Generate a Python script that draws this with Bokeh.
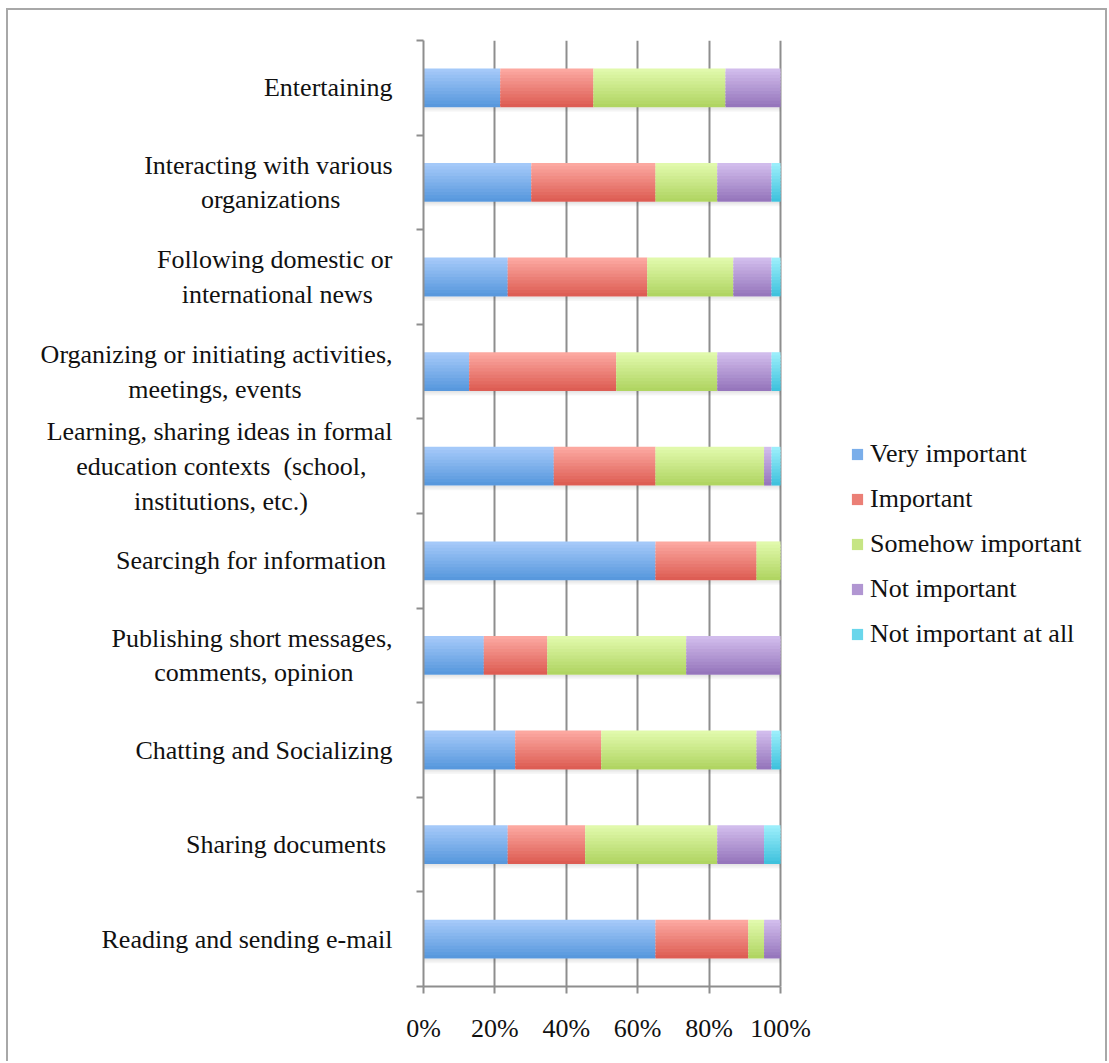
from bokeh.plotting import figure
from bokeh.models import Range1d, FixedTicker, NumeralTickFormatter, Legend, LegendItem
from bokeh.embed import file_html
from bokeh.resources import INLINE

# ---- data (bottom to top) ----
categories = [
    "Reading and sending e-mail",
    "Sharing documents ",
    "Chatting and Socializing",
    "Publishing short messages,\ncomments, opinion",
    "Searcingh for information ",
    "Learning, sharing ideas in formal\neducation contexts  (school,\ninstitutions, etc.)",
    "Organizing or initiating activities,\nmeetings, events",
    "Following domestic or\ninternational news",
    "Interacting with various\norganizations",
    "Entertaining",
]
series_names = ["Very important", "Important", "Somehow important", "Not important", "Not important at all"]
very_important = [65.0, 23.6, 25.7, 16.9, 65.0, 36.5, 12.8, 23.6, 30.2, 21.5]
important = [26.0, 21.7, 24.1, 17.8, 28.3, 28.5, 41.2, 39.1, 34.8, 26.1]
somehow_important = [4.4, 37.0, 43.5, 38.9, 6.7, 30.4, 28.3, 24.1, 17.3, 37.0]
not_important = [4.6, 13.1, 4.2, 26.4, 0.0, 2.1, 15.2, 10.7, 15.2, 15.4]
not_important_at_all = [0.0, 4.6, 2.5, 0.0, 0.0, 2.5, 2.5, 2.5, 2.5, 0.0]
x_tick_values = [0, 0.2, 0.4, 0.6, 0.8, 1.0]

series = [very_important, important, somehow_important, not_important, not_important_at_all]

# ---- styling ----
grad = [("#a8cbfa", "#5496dc"), ("#fdaba4", "#dc5a50"), ("#e3fbaf", "#aed35f"),
        ("#d4bfee", "#9373ba"), ("#9ff0fc", "#3cc0dc")]
# trailing non-breaking spaces per line so that multi-line labels look centred
line_pads = [[0], [0], [0], [0, 6], [0], [0, 4, 13], [0, 14], [0, 3], [0, 8], [0]]

FONT = "Liberation Serif"
NBSP = "\u00a0"

FIG_W, FIG_H = 1101, 1053
BORDER_L, BORDER_T, BORDER_B = 415, 30, 77
PLOT_PX = 357           # pixel width of 0..100 %
FRAME_PX = FIG_W - BORDER_L
X_MAX = FRAME_PX / PLOT_PX   # frame extends to the right to host the legend


def mix(c1, c2, t):
    a = [int(c1[i:i + 2], 16) for i in (1, 3, 5)]
    b = [int(c2[i:i + 2], 16) for i in (1, 3, 5)]
    return "#%02x%02x%02x" % tuple(round(a[k] + (b[k] - a[k]) * t) for k in range(3))


def padded(label, pads):
    lines = label.split("\n")
    out = []
    for ln, n in zip(lines, pads):
        if ln.endswith(" "):
            ln = ln[:-1] + NBSP
        out.append(ln.replace("  ", NBSP + NBSP) + NBSP * n)
    return "\n".join(out)


p = figure(width=FIG_W, height=FIG_H, output_backend="svg", toolbar_location=None,
           x_range=Range1d(0, X_MAX), y_range=Range1d(0, len(categories)),
           min_border_left=BORDER_L, min_border_right=0, min_border_top=BORDER_T,
           min_border_bottom=BORDER_B)
p.margin = (8, 0, 0, 6)
p.styles = {"border-top": "2px solid #a8a8a8", "border-left": "2px solid #a8a8a8",
            "border-right": "2px solid #a8a8a8"}
p.outline_line_color = None
p.background_fill_color = "white"
p.border_fill_color = "white"

# grid
p.ygrid.grid_line_color = None
p.xgrid.ticker = FixedTicker(ticks=x_tick_values)
p.xgrid.grid_line_color = "#8e8e8e"
p.xgrid.grid_line_width = 2

ys = [i + 0.5 for i in range(len(categories))]
BAR_H = 0.41
NSTRIP = 12
strip_h = BAR_H / NSTRIP

# soft shadow below bars
for k in range(4):
    p.hbar(y=[y - BAR_H / 2 - 0.012 * (k + 0.5) for y in ys], height=0.012,
           left=0.0, right=1.0, fill_color="#000000", fill_alpha=0.10 - 0.022 * k,
           line_color=None)

legend_items = []
lefts = [0.0] * len(categories)
for s_idx, vals in enumerate(series):
    rights = [l + v / 100.0 for l, v in zip(lefts, vals)]
    mid_renderer = None
    for j in range(NSTRIP):
        t = (j + 0.5) / NSTRIP
        col = mix(grad[s_idx][0], grad[s_idx][1], t)
        tops = [y + BAR_H / 2 - j * strip_h for y in ys]
        bottoms = [max(y - BAR_H / 2, tp - strip_h * 1.6) for y, tp in zip(ys, tops)]
        r = p.quad(left=lefts, right=rights, top=tops, bottom=bottoms,
                   fill_color=col, line_color=None)
        if j == NSTRIP // 2:
            mid_renderer = r
    legend_items.append(LegendItem(label=series_names[s_idx], renderers=[mid_renderer]))
    lefts = rights

# axes
yax = p.yaxis[0]
yax.ticker = FixedTicker(ticks=ys, minor_ticks=list(range(len(categories) + 1)))
yax.major_label_overrides = {y: padded(c, pd) for y, c, pd in zip(ys, categories, line_pads)}
yax.major_tick_out = 0
yax.major_tick_in = 0
yax.minor_tick_out = 7
yax.minor_tick_in = 0
yax.minor_tick_line_color = "#8e8e8e"
yax.minor_tick_line_width = 2
yax.axis_line_color = "#8e8e8e"
yax.axis_line_width = 2
yax.major_label_text_font = FONT
yax.major_label_text_font_size = "26px"
yax.major_label_text_color = "#111111"
yax.major_label_standoff = 24

xax = p.xaxis[0]
xax.bounds = (0, 1)
xax.ticker = FixedTicker(ticks=x_tick_values)
xax.formatter = NumeralTickFormatter(format="0%")
xax.major_tick_out = 7
xax.major_tick_in = 0
xax.minor_tick_line_color = None
xax.major_tick_line_color = "#8e8e8e"
xax.major_tick_line_width = 2
xax.axis_line_color = "#8e8e8e"
xax.axis_line_width = 2
xax.major_label_text_font = FONT
xax.major_label_text_font_size = "26px"
xax.major_label_text_color = "#111111"
xax.major_label_standoff = 20

legend = Legend(items=legend_items, location=(427, 337), orientation="vertical")
legend.label_text_font = FONT
legend.label_text_font_size = "26px"
legend.label_text_color = "#111111"
legend.glyph_width = 14
legend.glyph_height = 14
legend.label_standoff = 6
legend.spacing = 15
legend.padding = 0
legend.margin = 0
legend.border_line_color = None
legend.background_fill_alpha = 0
p.add_layout(legend, "center")

open("out.html", "w").write(file_html(p, INLINE))
